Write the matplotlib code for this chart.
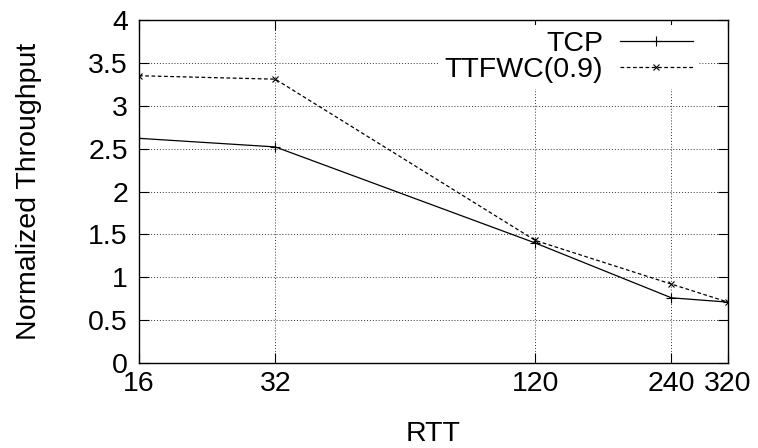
import matplotlib
matplotlib.use("Agg")
import matplotlib.pyplot as plt
from matplotlib.ticker import FixedLocator, NullLocator, FixedFormatter

rtt = [16, 32, 120, 240, 320]
tcp = [2.62, 2.52, 1.40, 0.76, 0.71]
ttfwc = [3.35, 3.31, 1.43, 0.92, 0.71]
y_ticks = [0, 0.5, 1, 1.5, 2, 2.5, 3, 3.5, 4]
y_labels = ["0", "0.5", "1", "1.5", "2", "2.5", "3", "3.5", "4"]

plt.rcParams['font.family'] = ['Liberation Sans', 'DejaVu Sans']
plt.rcParams['font.size'] = 20.5

fig = plt.figure(figsize=(7.58, 4.48), dpi=100)
ax = fig.add_axes([139 / 758, 85 / 448, 589 / 758, 343 / 448])

ax.plot(rtt, tcp, color='black', lw=0.9, marker='+', ms=7, mew=0.8, label='TCP')
ax.plot(rtt, ttfwc, color='black', lw=0.9, ls=(0, (3, 2)), marker='x', ms=5, mew=0.8,
        label='TTFWC(0.9)')

ax.set_xscale('log')
ax.set_xlim(16, 320)
ax.set_ylim(0, 4)
ax.xaxis.set_major_locator(FixedLocator(rtt))
ax.xaxis.set_major_formatter(FixedFormatter([str(r) for r in rtt]))
ax.xaxis.set_minor_locator(NullLocator())
ax.set_yticks(y_ticks)
ax.set_yticklabels(y_labels)

ax.tick_params(direction='in', top=True, right=True, length=7, width=0.8)
ax.tick_params(axis='x', pad=6)
ax.tick_params(axis='y', pad=8)
ax.grid(True, color='#333333', ls=(0, (1, 2)), lw=0.7)
for s in ax.spines.values():
    s.set_linewidth(1.0)

ax.set_xlabel('RTT', labelpad=17)
ax.set_ylabel('Normalized Throughput', labelpad=33)

leg = ax.legend(loc='upper right', bbox_to_anchor=(0.950, 0.985), markerfirst=False,
                frameon=True, fancybox=False, handlelength=2.56, borderaxespad=0,
                borderpad=0.2, labelspacing=0.0, handletextpad=0.6)
leg.get_frame().set_edgecolor('none')
leg.get_frame().set_facecolor('white')
leg.get_frame().set_alpha(1)

fig.savefig('out.png', dpi=100)
